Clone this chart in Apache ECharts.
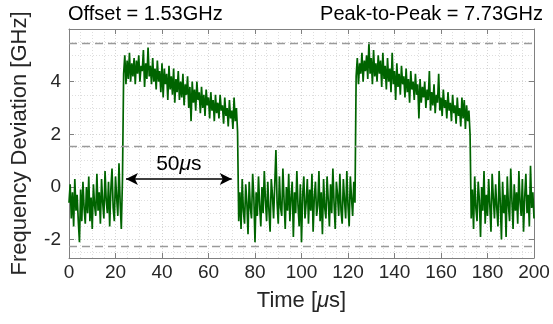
<!DOCTYPE html>
<html>
<head>
<meta charset="utf-8">
<script src="https://cdn.jsdelivr.net/npm/echarts@6/dist/echarts.min.js"></script>
<style>html,body{margin:0;padding:0;background:#fff}#c{width:553px;height:324px}</style>
</head>
<body>
<div id="c"></div>
<script>
// ---- data ----
// segment boundaries (µs) for each sampled stretch of the trace
var segStart = [0, 23.5, 73, 123.5, 173];
var segEnd   = [23, 72.5, 123, 172.5, 200];
// frequency deviation samples (GHz) per segment
var low1 = [-0.6, 0.1, -1.2, -0.2, -1.5, 0.3, -0.9, -0.3, -1.3, -2.1,
  -0.1, -1.3, 0.2, -0.8, -1.4, 0.0, -1.0, 0.4, -1.3, -0.4,
  -1.6, 0.1, -0.7, -1.1, 0.5, -0.9, -0.2, -1.4, 0.3, -0.6,
  -1.2, 0.6, -0.5, -1.0, 0.2, -1.5, -0.1, 0.7, -0.8, -1.3,
  0.4, -0.4, -1.1, 0.9, -0.6, -1.6, 0.3];
var high1 = [4.3, 5.0, 3.9, 4.8, 4.1, 5.1, 4.0, 4.7, 4.2, 4.9,
  3.9, 4.8, 4.3, 5.0, 4.0, 4.6, 4.4, 5.2, 3.8, 4.7,
  4.1, 5.3, 4.2, 4.6, 3.9, 4.9, 4.0, 4.5, 3.7, 4.8,
  4.0, 4.4, 3.6, 4.7, 3.4, 4.5, 3.9, 4.3, 3.3, 4.6,
  3.7, 4.2, 3.5, 4.5, 3.2, 4.1, 3.6, 4.4, 3.3, 4.0,
  3.4, 4.3, 3.1, 3.9, 3.5, 4.2, 3.0, 3.8, 2.5, 4.0,
  3.2, 3.7, 2.9, 4.0, 3.3, 3.6, 2.8, 3.8, 3.0, 3.5,
  2.7, 3.7, 3.1, 3.4, 2.6, 3.6, 2.9, 3.3, 2.5, 3.5,
  2.8, 3.2, 2.6, 3.5, 2.9, 3.1, 2.4, 3.4, 2.7, 3.0,
  2.3, 3.3, 2.6, 2.9, 2.2, 3.4, 2.5, 3.0, 2.1];
var low2 = [-1.3, -0.2, -1.6, 0.3, -0.9, -1.4, 0.1, -0.6, -1.8, 0.2,
  -0.8, -1.2, 0.5, -0.4, -2.1, -0.2, -1.1, 0.4, -0.7, -1.5,
  0.0, -1.0, 0.6, -0.5, -1.3, 0.2, -0.9, -1.7, 0.3, -0.3,
  -1.2, 0.1, 1.4, -0.6, -1.4, 0.4, -0.8, -1.1, 0.7, -0.5,
  -1.6, 0.0, -0.9, 0.5, -1.3, -0.4, 0.2, -1.9, -0.2, -1.0,
  0.6, -0.7, -1.5, 0.1, -2.1, -0.3, 0.4, -1.2, -0.6, 0.3,
  -1.4, -0.1, -0.9, 0.5, -1.7, -0.4, 0.2, -1.1, -0.7, 0.6,
  -1.3, -0.2, -1.8, 0.3, -0.8, -1.2, 0.4, -0.5, -1.5, 0.1,
  -1.0, 0.7, -0.6, -1.6, 0.2, -0.3, -1.1, 0.5, -0.9, -1.4,
  0.3, -0.5, -1.2, 0.6, -0.7, -1.5, 0.4, -0.4, -1.1, 0.2,
  -0.6];
var high2 = [4.2, 4.9, 3.9, 4.7, 4.3, 5.1, 4.0, 4.8, 4.4, 5.0,
  4.1, 5.5, 4.3, 4.9, 3.9, 5.2, 4.2, 4.7, 4.0, 5.0,
  4.3, 4.8, 3.8, 5.1, 4.1, 4.6, 3.7, 4.9, 4.0, 4.5,
  3.6, 5.1, 3.9, 4.4, 3.3, 4.7, 3.8, 4.3, 3.5, 4.6,
  3.9, 4.2, 3.4, 4.5, 3.6, 4.1, 3.2, 4.4, 3.7, 4.0,
  3.3, 4.3, 3.5, 3.9, 2.6, 4.1, 3.2, 3.8, 3.4, 4.0,
  3.0, 3.7, 3.3, 4.4, 2.9, 3.6, 3.1, 3.9, 2.8, 3.5,
  3.2, 4.3, 2.9, 3.4, 2.7, 3.7, 3.0, 3.3, 2.6, 3.6,
  2.9, 3.2, 2.5, 3.5, 2.8, 3.1, 2.4, 3.4, 2.7, 3.0,
  2.3, 3.4, 2.6, 3.3, 2.2, 3.1, 2.5, 2.9, 2.0];
var low3 = [-1.2, -0.1, -1.6, 0.4, -0.8, -1.3, 0.2, -0.5, -1.9, 0.0,
  -0.9, 0.6, -1.4, -0.3, -1.1, 0.3, -0.7, -1.7, 0.5, -0.4,
  -1.2, 0.1, -0.8, -1.5, 0.6, -0.6, -2.0, 0.2, -1.0, -0.3,
  -1.9, 0.4, -0.7, -1.3, 0.7, -0.5, -1.6, 0.1, -0.9, -0.2,
  -1.4, 0.6, -0.6, -1.1, 0.3, -1.7, -0.4, 0.5, -1.0, -0.3,
  -1.5, 0.8, -0.8, -0.2, -1.2];
var segments = [low1, high1, low2, high2, low3];

// reference levels (GHz)
var levelMax = 5.47, levelOffset = 1.55, levelMin = -2.25;
// pulse-width annotation
var arrowFrom = 24.5, arrowTo = 70, arrowLevel = 0.3;
var xTickLabels = [0, 20, 40, 60, 80, 100, 120, 140, 160, 180, 200];
var yTickLabels = [-2, 0, 2, 4];
var topLeftText = 'Offset = 1.53GHz';
var topRightText = 'Peak-to-Peak = 7.73GHz';

// ---- build ----
var trace = [];
segments.forEach(function (seg, k) {
  var n = seg.length;
  var step = (segEnd[k] - segStart[k]) / (n - 1);
  for (var i = 0; i < n; i++) trace.push([segStart[k] + i * step, seg[i]]);
});

var FONT = "'Liberation Sans', Arial, Helvetica, sans-serif";
var TXT = '#262626';
var AX = '#808080';

var chart = echarts.init(document.getElementById('c'), null, {renderer: 'canvas'});
var gridLine = {show: true, lineStyle: {color: '#d4d4d4', type: [1, 2], width: 1}};
var minorLine = {show: true, lineStyle: {color: '#dedede', type: [1, 2], width: 1}};

chart.setOption({
  animation: false,
  backgroundColor: '#fff',
  grid: {left: 69, right: 19, top: 29, bottom: 66, containLabel: false, outerBoundsMode: 'none'},
  xAxis: [{
    type: 'value', min: 0, max: 200, interval: 20,
    axisLine: {show: true, onZero: false, lineStyle: {color: AX, width: 1}},
    axisTick: {show: true, inside: true, length: 5, lineStyle: {color: AX}},
    minorTick: {show: false, splitNumber: 4},
    splitLine: gridLine, minorSplitLine: minorLine,
    axisLabel: {color: TXT, fontSize: 19, fontFamily: FONT, margin: 5,
      formatter: function (v) { return xTickLabels.indexOf(v) >= 0 ? String(v) : ''; }},
    name: 'Time [{mu|μ}s]', nameLocation: 'middle', nameGap: 32,
    nameTextStyle: {color: TXT, fontSize: 22, fontFamily: FONT,
      rich: {mu: {fontStyle: 'italic', fontSize: 22, fontFamily: FONT, color: TXT}}}
  }, {
    type: 'value', min: 0, max: 200, interval: 20, position: 'top',
    axisLine: {show: true, onZero: false, lineStyle: {color: AX, width: 1}},
    axisTick: {show: true, inside: true, length: 5, lineStyle: {color: AX}},
    axisLabel: {show: false}, splitLine: {show: false}
  }],
  yAxis: [{
    type: 'value', min: -2.7, max: 6,
    axisLine: {show: true, onZero: false, lineStyle: {color: AX, width: 1}},
    axisTick: {show: true, inside: true, length: 5, lineStyle: {color: AX}},
    minorTick: {show: false, splitNumber: 4},
    splitLine: gridLine, minorSplitLine: minorLine,
    axisLabel: {color: TXT, fontSize: 19, fontFamily: FONT, margin: 8,
      showMinLabel: false, showMaxLabel: false,
      formatter: function (v) { return yTickLabels.indexOf(v) >= 0 ? String(v) : ''; }},
    name: 'Frequency Deviation [GHz]', nameLocation: 'middle', nameGap: 38,
    nameTextStyle: {color: TXT, fontSize: 22, fontFamily: FONT}
  }, {
    type: 'value', min: -2.7, max: 6, position: 'right',
    axisLine: {show: true, onZero: false, lineStyle: {color: AX, width: 1}},
    axisTick: {show: true, inside: true, length: 5, lineStyle: {color: AX}},
    axisLabel: {show: false}, splitLine: {show: false}
  }],
  series: [{
    type: 'line', data: trace, showSymbol: false, symbol: 'none',
    lineStyle: {color: '#006400', width: 1.7, join: 'miter', miterLimit: 4}, itemStyle: {color: '#006400'},
    z: 3,
    markLine: {
      silent: true, symbol: 'none', animation: false,
      lineStyle: {color: '#9a9a9a', type: [8, 5], width: 1.3},
      label: {show: false},
      data: [{yAxis: levelMax}, {yAxis: levelOffset}, {yAxis: levelMin}]
    }
  }, {
    type: 'line', data: [], z: 5,
    markLine: {
      silent: true, animation: false,
      symbol: ['arrow', 'arrow'], symbolSize: [9, 12],
      lineStyle: {color: '#000', type: 'solid', width: 1.6},
      label: {show: true, position: 'middle', distance: 4,
        formatter: '50{mu|μ}s', color: '#000', fontSize: 21, fontFamily: FONT,
        rich: {mu: {fontStyle: 'italic', fontSize: 21, fontFamily: FONT, color: '#000'}}},
      data: [[{coord: [arrowFrom, arrowLevel]}, {coord: [arrowTo, arrowLevel]}]]
    }
  }],
  graphic: [{
    type: 'text', left: 68, top: 4,
    style: {text: topLeftText, fill: '#000', font: '20px ' + FONT}
  }, {
    type: 'text', right: 10, top: 4,
    style: {text: topRightText, fill: '#000', font: '20px ' + FONT}
  }]
});
</script>
</body>
</html>
